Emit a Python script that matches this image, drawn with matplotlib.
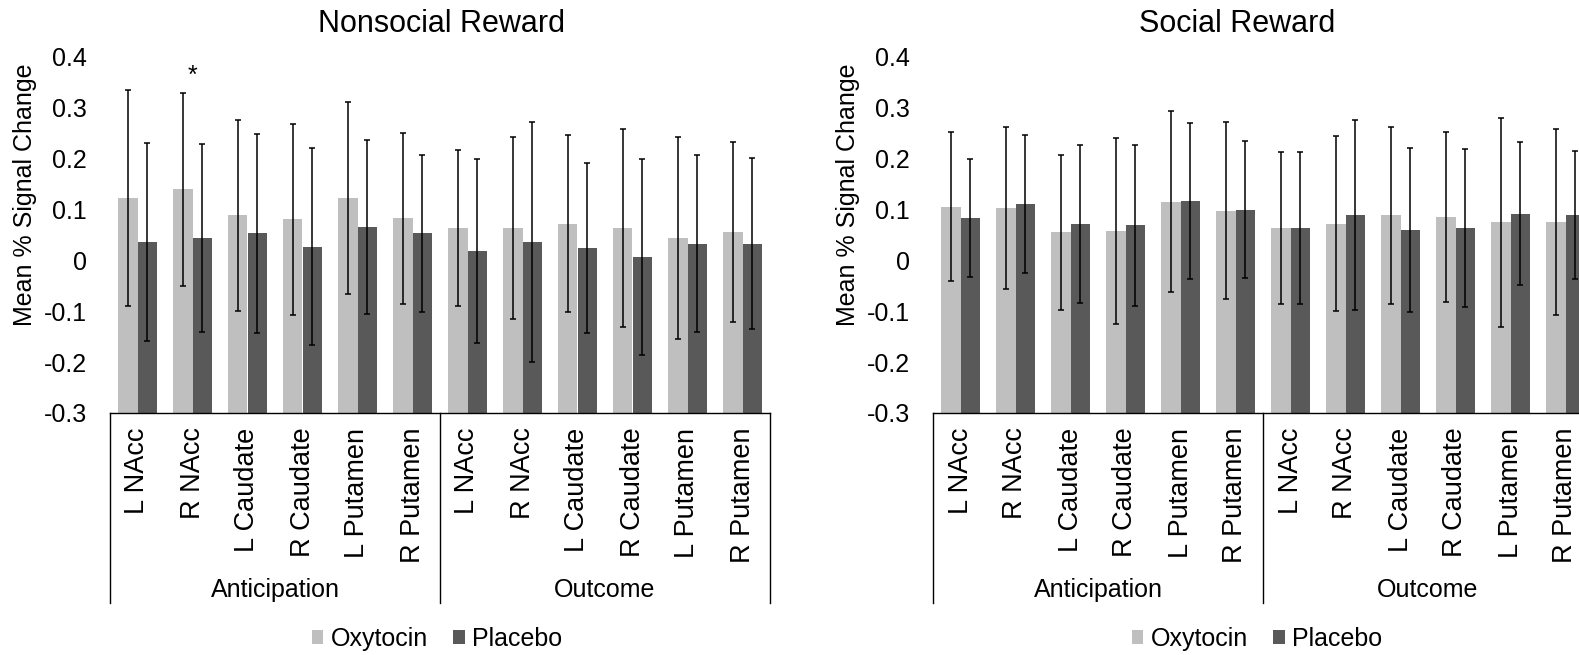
import matplotlib

matplotlib.use("Agg")
import matplotlib.pyplot as plt
import matplotlib.transforms as mtransforms
import numpy as np
from matplotlib.patches import Patch

plt.rcParams["font.family"] = ["Liberation Sans", "DejaVu Sans"]
plt.rcParams["axes.unicode_minus"] = False

OXY = "#bfbfbf"
PLA = "#595959"
INK = "#000000"

regions = ["L NAcc", "R NAcc", "L Caudate", "R Caudate", "L Putamen", "R Putamen"]
phases = ["Anticipation", "Outcome"]
categories = regions * len(phases)

y_ticks = [-0.3, -0.2, -0.1, 0, 0.1, 0.2, 0.3, 0.4]
y_tick_labels = ["-0.3", "-0.2", "-0.1", "0", "0.1", "0.2", "0.3", "0.4"]

nonsocial_oxy = [0.123, 0.140, 0.089, 0.081, 0.123, 0.083, 0.064, 0.064, 0.072, 0.064, 0.044, 0.055]
nonsocial_oxy_err = [0.212, 0.190, 0.188, 0.188, 0.189, 0.168, 0.153, 0.179, 0.174, 0.194, 0.198, 0.177]
nonsocial_pla = [0.036, 0.044, 0.053, 0.027, 0.066, 0.053, 0.018, 0.036, 0.024, 0.007, 0.033, 0.033]
nonsocial_pla_err = [0.194, 0.185, 0.195, 0.194, 0.171, 0.154, 0.181, 0.236, 0.167, 0.192, 0.174, 0.168]

social_oxy = [0.106, 0.103, 0.055, 0.058, 0.115, 0.098, 0.064, 0.072, 0.089, 0.086, 0.075, 0.075]
social_oxy_err = [0.147, 0.160, 0.152, 0.183, 0.178, 0.174, 0.150, 0.172, 0.174, 0.167, 0.206, 0.183]
social_pla = [0.083, 0.111, 0.072, 0.069, 0.117, 0.100, 0.064, 0.089, 0.060, 0.064, 0.092, 0.089]
social_pla_err = [0.116, 0.136, 0.155, 0.158, 0.154, 0.134, 0.150, 0.187, 0.161, 0.156, 0.141, 0.126]

# significant oxytocin vs placebo differences (category index), nonsocial only
nonsocial_sig = [1]

W, H = 1579, 655
FS = 18
CAT_FS = 19.5
BAR_W = 0.355
Y_MIN = -0.3


def draw_panel(fig, left_px, title, title_x, oxy, oxy_err, pla, pla_err, sig):
    ax = fig.add_axes([left_px / W, 1 - 413 / H, 660 / W, 356 / H])
    x = np.arange(len(categories)) + 0.5

    ax.bar(x - BAR_W / 2, np.array(oxy) - Y_MIN, bottom=Y_MIN, width=BAR_W,
           color=OXY, zorder=2)
    ax.bar(x + BAR_W / 2, np.array(pla) - Y_MIN, bottom=Y_MIN, width=BAR_W,
           color=PLA, zorder=2)
    eb = dict(fmt="none", ecolor=INK, elinewidth=1.1, capsize=2.5, capthick=1.1, zorder=3)
    ax.errorbar(x - BAR_W / 2, oxy, yerr=oxy_err, **eb)
    ax.errorbar(x + BAR_W / 2, pla, yerr=pla_err, **eb)

    for i in sig:
        ax.text(x[i], 0.35, "*", ha="center", va="baseline", fontsize=FS, color=INK)

    ax.set_xlim(0, len(categories))
    ax.set_ylim(Y_MIN, 0.4)
    ax.set_yticks(y_ticks, y_tick_labels)
    ax.set_xticks(x, categories, rotation=90)
    ax.tick_params(axis="y", length=0, pad=16.5, labelsize=FS, labelcolor=INK)
    ax.tick_params(axis="x", length=0, pad=10.5, labelsize=CAT_FS, labelcolor=INK)
    for side in ("left", "top", "right"):
        ax.spines[side].set_visible(False)
    ax.spines["bottom"].set_color(INK)
    ax.spines["bottom"].set_linewidth(1.0)

    # multi-level category axis: group dividers and group names
    trans = mtransforms.blended_transform_factory(ax.transData, ax.transAxes)
    n = len(regions)
    for k in range(len(phases) + 1):
        ax.plot([k * n, k * n], [0, -0.534], color=INK, lw=1.0,
                transform=trans, clip_on=False)
    for k, name in enumerate(phases):
        ax.text(k * n + n / 2, -0.497, name, transform=trans, ha="center",
                va="center", fontsize=FS, color=INK)

    fig.text(title_x / W, 1 - 24 / H, title, ha="center", va="center",
             fontsize=22, color=INK)
    fig.text((left_px - 85) / W, 1 - 195 / H, "Mean % Signal Change", rotation=90,
             ha="center", va="center", fontsize=FS, color=INK)
    return ax


fig = plt.figure(figsize=(W / 100, H / 100), dpi=100)
fig.patch.set_facecolor("white")

draw_panel(fig, 110, "Nonsocial Reward", 442, nonsocial_oxy, nonsocial_oxy_err,
           nonsocial_pla, nonsocial_pla_err, nonsocial_sig)
draw_panel(fig, 933, "Social Reward", 1237, social_oxy, social_oxy_err,
           social_pla, social_pla_err, [])

handles = [Patch(facecolor=OXY, label="Oxytocin"), Patch(facecolor=PLA, label="Placebo")]
for cx in (437, 1257):
    fig.legend(handles=handles, loc="center", bbox_to_anchor=(cx / W, 1 - 639 / H),
               ncol=2, frameon=False, fontsize=FS, handlelength=0.47, handleheight=0.47,
               handletextpad=0.3, columnspacing=1.0, borderpad=0)

fig.savefig("out.png", dpi=100, facecolor="white")
